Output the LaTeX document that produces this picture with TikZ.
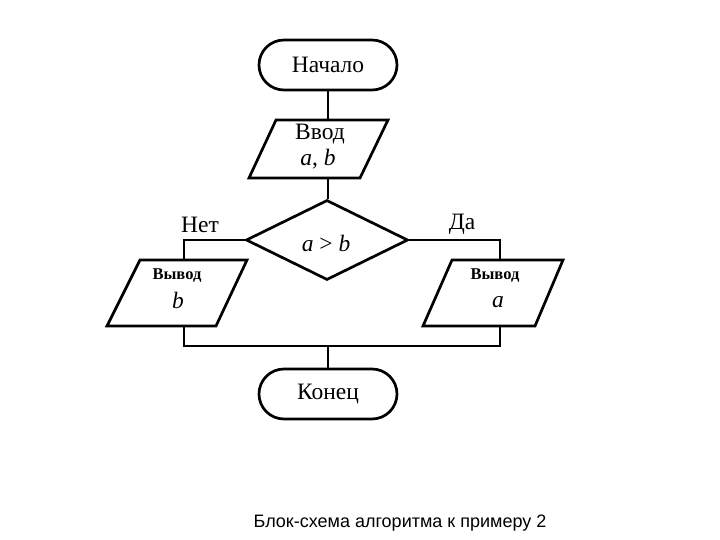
\documentclass[tikz,border=0pt]{standalone}
\usepackage{fontspec}
\setmainfont{Liberation Serif}
\newfontfamily\capfont{Liberation Sans}
\usetikzlibrary{shapes.geometric,shapes.misc}
\begin{document}
\begin{tikzpicture}[x=1pt,y=-1pt,
 line width=2.7pt,
 term/.style={draw,rounded rectangle,minimum width=138pt,minimum height=50pt,inner sep=0pt,font=\fontsize{23.5}{26}\selectfont},
 dec/.style={draw,diamond,minimum width=162pt,minimum height=80pt,inner sep=0pt},
 txt/.style={inner sep=0pt,font=\fontsize{23.5}{26}\selectfont},
 smalltxt/.style={inner sep=0pt,font=\bfseries\fontsize{16.5}{19}\selectfont},
 para/.style={draw,line join=miter},
 captxt/.style={inner sep=0pt,font=\capfont\fontsize{18}{21}\selectfont}
]
\useasboundingbox (0,0) rectangle (720,540);
% start
\node[term] (start) at (328,65) {Начало};
% input
\draw[para] (276,120) -- (388,120) -- (360,178) -- (249,178) -- cycle;
\coordinate (inT) at (328,120);
\coordinate (inB) at (328,178);
\node[txt] (intxt) at (320,134) {Ввод};
\node[txt] (inab) at (318,159) {\textit{a}, \textit{b}};
% decision
\node[dec] (dec) at (327,240) {};
\node[txt] (dectxt) at (326,243) {\textit{a} > \textit{b}};
\node[txt] (no) at (200,225) {Нет};
\node[txt] (yes) at (462,224) {Да};
% left output
\draw[para] (140,260) -- (247,260) -- (216,326) -- (107,326) -- cycle;
\coordinate (lT) at (184,260);
\coordinate (lB) at (184,326);
\node[smalltxt] (lout) at (177,276) {Вывод};
\node[txt] (lb) at (178,300) {\textit{b}};
% right output
\draw[para] (452,260) -- (563,260) -- (535,326) -- (423,326) -- cycle;
\coordinate (rT) at (500,260);
\coordinate (rB) at (500,326);
\node[smalltxt] (rout) at (495,276) {Вывод};
\node[txt] (ra) at (498,302) {\textit{a}};
% join
\coordinate (jl) at (184,346);
\coordinate (jr) at (500,346);
\coordinate (jm) at (328,346);
% end
\node[term] (end) at (328,394) {Конец};
% connectors
\draw (start) -- (inT);
\draw (inB) -- (inB |- dec.north);
\draw (dec.west) -| (lT);
\draw (dec.east) -| (rT);
\draw (lB) -- (jl) -- (jr) -- (rB);
\draw (jm) -- (end);
% caption
\node[captxt] (caption) at (400,523) {Блок-схема алгоритма к примеру 2};
\end{tikzpicture}
\end{document}
